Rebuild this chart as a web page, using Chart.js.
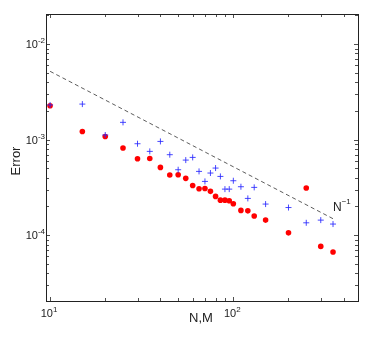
<!DOCTYPE html>
<html>
<head>
<meta charset="utf-8">
<script src="https://cdn.jsdelivr.net/npm/chart.js@4/dist/chart.umd.min.js"></script>
<style>
  html, body { margin: 0; padding: 0; background: #fff; }
</style>
</head>
<body>
<canvas id="myChart" width="374" height="339"></canvas>
<script>
// N,M values on the x axis
var sizes = [10, 15, 20, 25, 30, 35, 40, 45, 50, 55, 60, 65, 70, 75, 80, 85, 90, 95, 100, 110, 120, 130, 150, 200, 250, 300, 350];

// red dots
var errRed = [2.27e-3, 1.22e-3, 1.08e-3, 8.18e-4, 6.32e-4, 6.35e-4, 5.13e-4, 4.27e-4, 4.3e-4, 3.94e-4,
              3.32e-4, 3.07e-4, 3.09e-4, 2.88e-4, 2.55e-4, 2.33e-4, 2.33e-4, 2.3e-4, 2.14e-4, 1.82e-4,
              1.8e-4, 1.59e-4, 1.44e-4, 1.06e-4, 3.12e-4, 7.64e-5, 6.67e-5];

// blue plus markers
var errBlue = [2.31e-3, 2.36e-3, 1.12e-3, 1.52e-3, 9.08e-4, 7.55e-4, 9.6e-4, 6.97e-4, 4.85e-4, 6.12e-4,
               6.53e-4, 4.66e-4, 3.66e-4, 4.48e-4, 5.05e-4, 4.13e-4, 3.04e-4, 3.04e-4, 3.72e-4, 3.22e-4,
               2.43e-4, 3.17e-4, 2.12e-4, 1.95e-4, 1.35e-4, 1.44e-4, 1.31e-4];

// dashed reference line N^-1 (end points)
var refX = [10, 350];
var refY = [5.2e-3, 1.49e-4];

// tick labels
var xTickVals = [10, 100];
var xTickExp = ['1', '2'];
var yTickVals = [1e-4, 1e-3, 1e-2];
var yTickExp = ['-4', '-3', '-2'];

function pairs(xs, ys) {
  return xs.map(function(x, i) { return { x: x, y: ys[i] }; });
}

var FONT = '"Liberation Sans", Arial, sans-serif';

// label like 10^2 with a small raised exponent
function drawPower(ctx, base, exp, x, y, align) {
  ctx.font = '11px ' + FONT;
  var wb = ctx.measureText(base).width;
  ctx.font = '8px ' + FONT;
  var we = ctx.measureText(exp).width;
  var left = x;
  if (align === 'center') left = x - (wb + we) / 2;
  if (align === 'right') left = x - (wb + we);
  ctx.textAlign = 'left';
  ctx.textBaseline = 'alphabetic';
  ctx.font = '11px ' + FONT;
  ctx.fillText(base, left, y);
  ctx.font = '8px ' + FONT;
  ctx.fillText(exp, left + wb, y - 5);
}

var axesPlugin = {
  id: 'matlabAxes',
  afterDraw: function(chart) {
    var ctx = chart.ctx;
    var a = chart.chartArea;
    var xs = chart.scales.x, ys = chart.scales.y;
    ctx.save();
    ctx.strokeStyle = '#222';
    ctx.fillStyle = '#222';
    ctx.lineWidth = 1;
    ctx.strokeRect(Math.round(a.left) + 0.5, Math.round(a.top) + 0.5,
                   Math.round(a.right - a.left), Math.round(a.bottom - a.top));

    ctx.lineWidth = 0.8;
    // x ticks
    [1, 10, 100].forEach(function(d) {
      for (var m = 1; m <= 9; m++) {
        var v = d * m;
        if (v < xs.min || v > xs.max) continue;
        var len = m === 1 ? 4 : 3;
        var px = Math.round(xs.getPixelForValue(v)) + 0.5;
        ctx.beginPath();
        ctx.moveTo(px, a.bottom); ctx.lineTo(px, a.bottom - len);
        ctx.moveTo(px, a.top); ctx.lineTo(px, a.top + len);
        ctx.stroke();
      }
    });
    // y ticks
    [1e-5, 1e-4, 1e-3, 1e-2].forEach(function(d) {
      for (var m = 1; m <= 9; m++) {
        var v = d * m;
        if (v < ys.min || v > ys.max) continue;
        var len = m === 1 ? 4 : 3;
        var py = Math.round(ys.getPixelForValue(v)) + 0.5;
        ctx.beginPath();
        ctx.moveTo(a.left, py); ctx.lineTo(a.left + len, py);
        ctx.moveTo(a.right, py); ctx.lineTo(a.right - len, py);
        ctx.stroke();
      }
    });

    // tick labels
    xTickVals.forEach(function(v, i) {
      drawPower(ctx, '10', xTickExp[i], xs.getPixelForValue(v) - 1, a.bottom + 16, 'center');
    });
    yTickVals.forEach(function(v, i) {
      drawPower(ctx, '10', yTickExp[i], a.left - 1, ys.getPixelForValue(v) + 4, 'right');
    });

    // axis titles
    ctx.font = '13px ' + FONT;
    ctx.textAlign = 'center';
    ctx.textBaseline = 'middle';
    ctx.fillText('N,M', 201, 318);
    ctx.save();
    ctx.translate(16, 161);
    ctx.rotate(-Math.PI / 2);
    ctx.fillText('Error', 0, 0);
    ctx.restore();

    // N^-1 annotation
    ctx.font = '12px ' + FONT;
    ctx.textAlign = 'left';
    ctx.textBaseline = 'alphabetic';
    ctx.fillText('N', 333, 211);
    var wn = ctx.measureText('N').width;
    ctx.font = '8px ' + FONT;
    ctx.fillText('\u22121', 333 + wn, 204);
    ctx.restore();
  }
};

var ctx = document.getElementById('myChart').getContext('2d');
var myChart = new Chart(ctx, {
  type: 'scatter',
  data: {
    datasets: [{
      label: 'plus',
      data: pairs(sizes, errBlue),
      pointStyle: 'cross',
      pointRadius: 3,
      borderColor: 'rgba(40,40,255,0.85)',
      borderWidth: 1,
      order: 0
    }, {
      label: 'dots',
      data: pairs(sizes, errRed),
      pointStyle: 'circle',
      pointRadius: 2.8,
      backgroundColor: '#ff0000',
      borderColor: '#ff0000',
      borderWidth: 0,
      order: 1
    }, {
      type: 'line',
      label: 'N^-1',
      data: pairs(refX, refY),
      borderColor: '#333',
      borderWidth: 0.8,
      borderDash: [4, 3],
      pointRadius: 0,
      fill: false,
      order: 2
    }]
  },
  options: {
    responsive: false,
    animation: false,
    devicePixelRatio: 1,
    layout: { padding: { left: 46, right: 16, top: 14, bottom: 38 } },
    plugins: { legend: { display: false }, tooltip: { enabled: false } },
    scales: {
      x: { type: 'logarithmic', min: 9.5, max: 479, display: false },
      y: { type: 'logarithmic', min: 2.05e-5, max: 2.07e-2, display: false }
    }
  },
  plugins: [axesPlugin]
});
</script>
</body>
</html>
